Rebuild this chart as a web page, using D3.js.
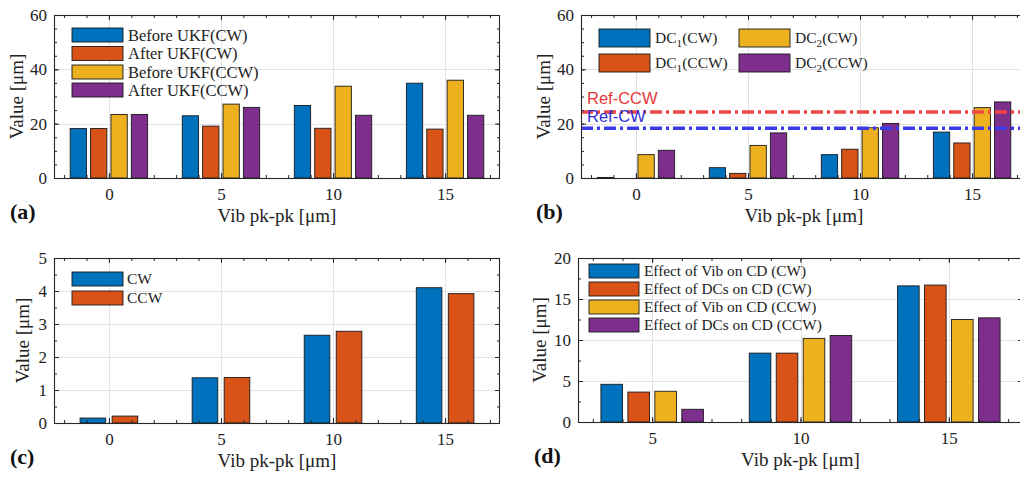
<!DOCTYPE html>
<html><head><meta charset="utf-8">
<script src="https://cdn.jsdelivr.net/npm/d3@7"></script>
<style>
html,body{margin:0;padding:0;background:#fff;}
svg{display:block;}
</style></head>
<body>
<svg id="chart" width="1020" height="477"></svg>
<script>
// ---------- data ----------
const vibLevels = [0, 5, 10, 15];
const vibLevelsD = [5, 10, 15];

// (a)
const beforeUkfCW = [18.2, 22.9, 26.7, 34.9];
const afterUkfCW = [18.2, 19.1, 18.3, 18.0];
const beforeUkfCCW = [23.4, 27.2, 33.8, 36.0];
const afterUkfCCW = [23.4, 26.0, 23.1, 23.1];
const legendA = ["Before UKF(CW)", "After UKF(CW)", "Before UKF(CCW)", "After UKF(CCW)"];

// (b)
const dc1CW = [0.2, 3.8, 8.6, 16.9];
const dc1CCW = [0, 1.7, 10.6, 12.9];
const dc2CW = [8.6, 12.0, 18.5, 25.9];
const dc2CCW = [10.2, 16.6, 20.1, 28.0];
const refCW = 18.3;
const refCCW = 24.3;

// (c)
const diffCW = [0.15, 1.37, 2.66, 4.10];
const diffCCW = [0.21, 1.38, 2.78, 3.92];
const legendC = ["CW", "CCW"];

// (d)
const vibOnCdCW = [4.6, 8.4, 16.6];
const dcsOnCdCW = [3.65, 8.4, 16.7];
const vibOnCdCCW = [3.75, 10.2, 12.5];
const dcsOnCdCCW = [1.55, 10.55, 12.7];
const legendD = ["Effect of Vib on CD (CW)", "Effect of DCs on CD (CW)", "Effect of Vib on CD (CCW)", "Effect of DCs on CD (CCW)"];

const yTicksA = [0, 20, 40, 60];
const yTicksC = [0, 1, 2, 3, 4, 5];
const yTicksD = [0, 5, 10, 15, 20];

// ---------- style ----------
const COLORS = ["#0072BD", "#D95319", "#EDB120", "#7E2F8E"];
const SERIF = "'Liberation Serif','Times New Roman',serif";
const SANS = "'Liberation Sans',Arial,sans-serif";
const AX = "#262626";

const svg = d3.select("#chart");

function panel(cfg) {
  const g = svg.append("g");
  const x = d3.scaleLinear().domain(cfg.xDomain).range([cfg.left, cfg.right]);
  const y = d3.scaleLinear().domain(cfg.yDomain).range([cfg.bottom, cfg.top]);
  const clipId = "clip" + cfg.letter;
  svg.append("clipPath").attr("id", clipId).append("rect")
    .attr("x", cfg.left).attr("y", cfg.top)
    .attr("width", cfg.right - cfg.left).attr("height", cfg.bottom - cfg.top);

  // grid
  const grid = g.append("g").attr("stroke", "#e3e3e3").attr("stroke-width", 1);
  cfg.xTicks.forEach(t => grid.append("line")
    .attr("x1", Math.round(x(t)) + 0.5).attr("x2", Math.round(x(t)) + 0.5)
    .attr("y1", cfg.top).attr("y2", cfg.bottom));
  cfg.yTicks.forEach(t => grid.append("line")
    .attr("x1", cfg.left).attr("x2", cfg.right)
    .attr("y1", Math.round(y(t)) + 0.5).attr("y2", Math.round(y(t)) + 0.5));

  // bars
  const n = cfg.series.length;
  const spacing = cfg.groupWidth / n;
  const bw = spacing * 0.8;
  const bars = g.append("g").attr("clip-path", `url(#${clipId})`);
  cfg.series.forEach((s, i) => {
    bars.selectAll(null).data(s).enter().append("rect")
      .attr("x", (d, j) => x(cfg.cats[j] + (i - (n - 1) / 2) * spacing - bw / 2))
      .attr("width", x(bw) - x(0))
      .attr("y", d => y(d))
      .attr("height", d => Math.max(0, y(0) - y(d)))
      .attr("fill", COLORS[i])
      .attr("stroke", "#1a1a1a").attr("stroke-width", 0.9);
  });

  if (cfg.extra) cfg.extra(g, x, y, clipId);

  // axes using d3 axis generators (inward ticks)
  const fmt = d3.format("d");
  const bottomAxis = d3.axisBottom(x).tickValues(cfg.xTicks).tickSize(-5).tickFormat(fmt).tickPadding(10);
  const leftAxis = d3.axisLeft(y).tickValues(cfg.yTicks).tickSize(-5).tickFormat(fmt).tickPadding(7);
  const topAxis = d3.axisTop(x).tickValues(cfg.xTicks).tickSize(-5).tickFormat("");
  const rightAxis = d3.axisRight(y).tickValues(cfg.yTicks).tickSize(-5).tickFormat("");
  const minorB = d3.axisBottom(x).tickValues(cfg.xMinor).tickSize(-3).tickFormat("");
  const minorT = d3.axisTop(x).tickValues(cfg.xMinor).tickSize(-3).tickFormat("");
  const minorL = d3.axisLeft(y).tickValues(cfg.yMinor).tickSize(-3).tickFormat("");
  const minorR = d3.axisRight(y).tickValues(cfg.yMinor).tickSize(-3).tickFormat("");

  const style = sel => {
    sel.select(".domain").remove();
    sel.selectAll("line").attr("stroke", AX).attr("stroke-width", 1);
    sel.selectAll("text").attr("font-family", SERIF).attr("font-size", 17).attr("fill", "#222");
  };
  g.append("g").attr("transform", `translate(0,${cfg.bottom})`).call(bottomAxis).call(style);
  g.append("g").attr("transform", `translate(0,${cfg.bottom})`).call(minorB).call(style);
  g.append("g").attr("transform", `translate(0,${cfg.top})`).call(topAxis).call(style);
  g.append("g").attr("transform", `translate(0,${cfg.top})`).call(minorT).call(style);
  g.append("g").attr("transform", `translate(${cfg.left},0)`).call(leftAxis).call(style);
  g.append("g").attr("transform", `translate(${cfg.left},0)`).call(minorL).call(style);
  g.append("g").attr("transform", `translate(${cfg.right},0)`).call(rightAxis).call(style);
  g.append("g").attr("transform", `translate(${cfg.right},0)`).call(minorR).call(style);

  // box
  g.append("rect").attr("x", cfg.left + 0.5).attr("y", cfg.top + 0.5)
    .attr("width", cfg.right - cfg.left - 1).attr("height", cfg.bottom - cfg.top)
    .attr("fill", "none").attr("stroke", AX).attr("stroke-width", 1.1);

  // labels
  g.append("text").attr("x", (cfg.left + cfg.right) / 2).attr("y", cfg.bottom + 44)
    .attr("text-anchor", "middle").attr("font-family", SERIF).attr("font-size", 19).attr("fill", "#222")
    .text("Vib pk-pk [μm]");
  g.append("text").attr("transform", `translate(${cfg.yLabelX},${(cfg.top + cfg.bottom) / 2}) rotate(-90)`)
    .attr("text-anchor", "middle").attr("dy", "0.35em")
    .attr("font-family", SERIF).attr("font-size", 19).attr("fill", "#222")
    .text("Value [μm]");
  g.append("text").attr("x", cfg.letterX).attr("y", cfg.bottom + 41)
    .attr("font-family", SERIF).attr("font-weight", "bold").attr("font-size", 22).attr("fill", "#111")
    .text(`(${cfg.letter})`);

  // legend
  if (cfg.legend) cfg.legend(g);
  return { x, y };
}

function rangeStep(a, b, s) { const r = []; for (let v = a; v <= b + 1e-9; v += s) r.push(+v.toFixed(4)); return r; }

function legendColumn(g, labels, colorIdx, x0, yCenters, sw, sh, textX, fs) {
  labels.forEach((lab, i) => {
    g.append("rect").attr("x", x0).attr("y", yCenters[i] - sh / 2).attr("width", sw).attr("height", sh)
      .attr("fill", COLORS[colorIdx[i]]).attr("stroke", "#1a1a1a").attr("stroke-width", 0.9);
    const t = g.append("text").attr("x", textX).attr("y", yCenters[i]).attr("dy", "0.35em")
      .attr("font-family", SERIF).attr("font-size", fs).attr("fill", "#222");
    if (Array.isArray(lab)) {
      t.append("tspan").text(lab[0]);
      t.append("tspan").attr("font-size", fs * 0.72).attr("dy", "0.3em").text(lab[1]);
      t.append("tspan").attr("dy", "-0.22em").text(lab[2]);
    } else t.text(lab);
  });
}

// (a)
panel({
  letter: "a", left: 54, right: 500, top: 15, bottom: 178,
  xDomain: [-2.45, 17.45], yDomain: [0, 60], cats: vibLevels,
  xTicks: vibLevels, yTicks: yTicksA,
  xMinor: rangeStep(-2, 17, 1), yMinor: rangeStep(0, 60, 5),
  groupWidth: 5 * 4 / 5.5,
  series: [beforeUkfCW, afterUkfCW, beforeUkfCCW, afterUkfCCW],
  yLabelX: 16, letterX: 10,
  legend: g => legendColumn(g, legendA, [0, 1, 2, 3], 72, [35, 53.5, 72, 90], 51, 14, 128, 16.5)
});

// (b)
panel({
  letter: "b", left: 581, right: 1027, top: 15, bottom: 178,
  xDomain: [-2.45, 17.45], yDomain: [0, 60], cats: vibLevels,
  xTicks: vibLevels, yTicks: yTicksA,
  xMinor: rangeStep(-2, 17, 1), yMinor: rangeStep(0, 60, 5),
  groupWidth: 5 * 4 / 5.5,
  series: [dc1CW, dc1CCW, dc2CW, dc2CCW],
  yLabelX: 543, letterX: 536,
  extra: (g, x, y, clipId) => {
    const lines = g.append("g").attr("clip-path", `url(#${clipId})`);
    lines.append("line").attr("x1", x(-2.45)).attr("x2", x(17.45)).attr("y1", y(refCCW)).attr("y2", y(refCCW))
      .attr("stroke", "#ef4646").attr("stroke-width", 3.4).attr("stroke-dasharray", "12,4,3,4");
    lines.append("line").attr("x1", x(-2.45)).attr("x2", x(17.45)).attr("y1", y(refCW)).attr("y2", y(refCW))
      .attr("stroke", "#3a3ae6").attr("stroke-width", 3.4).attr("stroke-dasharray", "12,4,3,4");
    g.append("text").attr("x", 587).attr("y", 103.5).attr("font-family", SANS).attr("font-size", 16.5)
      .attr("fill", "#e8383c").text("Ref-CCW");
    g.append("text").attr("x", 587).attr("y", 121.5).attr("font-family", SANS).attr("font-size", 16.5)
      .attr("fill", "#2f2fd8").text("Ref-CW");
  },
  legend: g => {
    legendColumn(g, [["DC", "1", "(CW)"], ["DC", "1", "(CCW)"]], [0, 1], 599, [38, 63], 51, 18, 655, 15.5);
    legendColumn(g, [["DC", "2", "(CW)"], ["DC", "2", "(CCW)"]], [2, 3], 739, [38, 63], 51, 18, 795, 15.5);
  }
});

// (c)
panel({
  letter: "c", left: 54, right: 500, top: 258, bottom: 423,
  xDomain: [-2.45, 17.45], yDomain: [0, 5], cats: vibLevels,
  xTicks: vibLevels, yTicks: yTicksC,
  xMinor: rangeStep(-2, 17, 1), yMinor: rangeStep(0, 5, 0.5),
  groupWidth: 5 * 2 / 3.5,
  series: [diffCW, diffCCW],
  yLabelX: 22, letterX: 10,
  legend: g => legendColumn(g, legendC, [0, 1], 72, [279, 298], 51, 14, 127, 15.5)
});

// (d)
panel({
  letter: "d", left: 578, right: 1023, top: 258, bottom: 422,
  xDomain: [2.5, 17.5], yDomain: [0, 20], cats: vibLevelsD,
  xTicks: vibLevelsD, yTicks: yTicksD,
  xMinor: rangeStep(3, 17, 1), yMinor: rangeStep(0, 20, 2.5),
  groupWidth: 5 * 4 / 5.5,
  series: [vibOnCdCW, dcsOnCdCW, vibOnCdCCW, dcsOnCdCCW],
  yLabelX: 539, letterX: 534,
  legend: g => legendColumn(g, legendD, [0, 1, 2, 3], 589, [271, 289, 307, 325], 50, 14, 644, 15.3)
});
</script>
</body></html>
